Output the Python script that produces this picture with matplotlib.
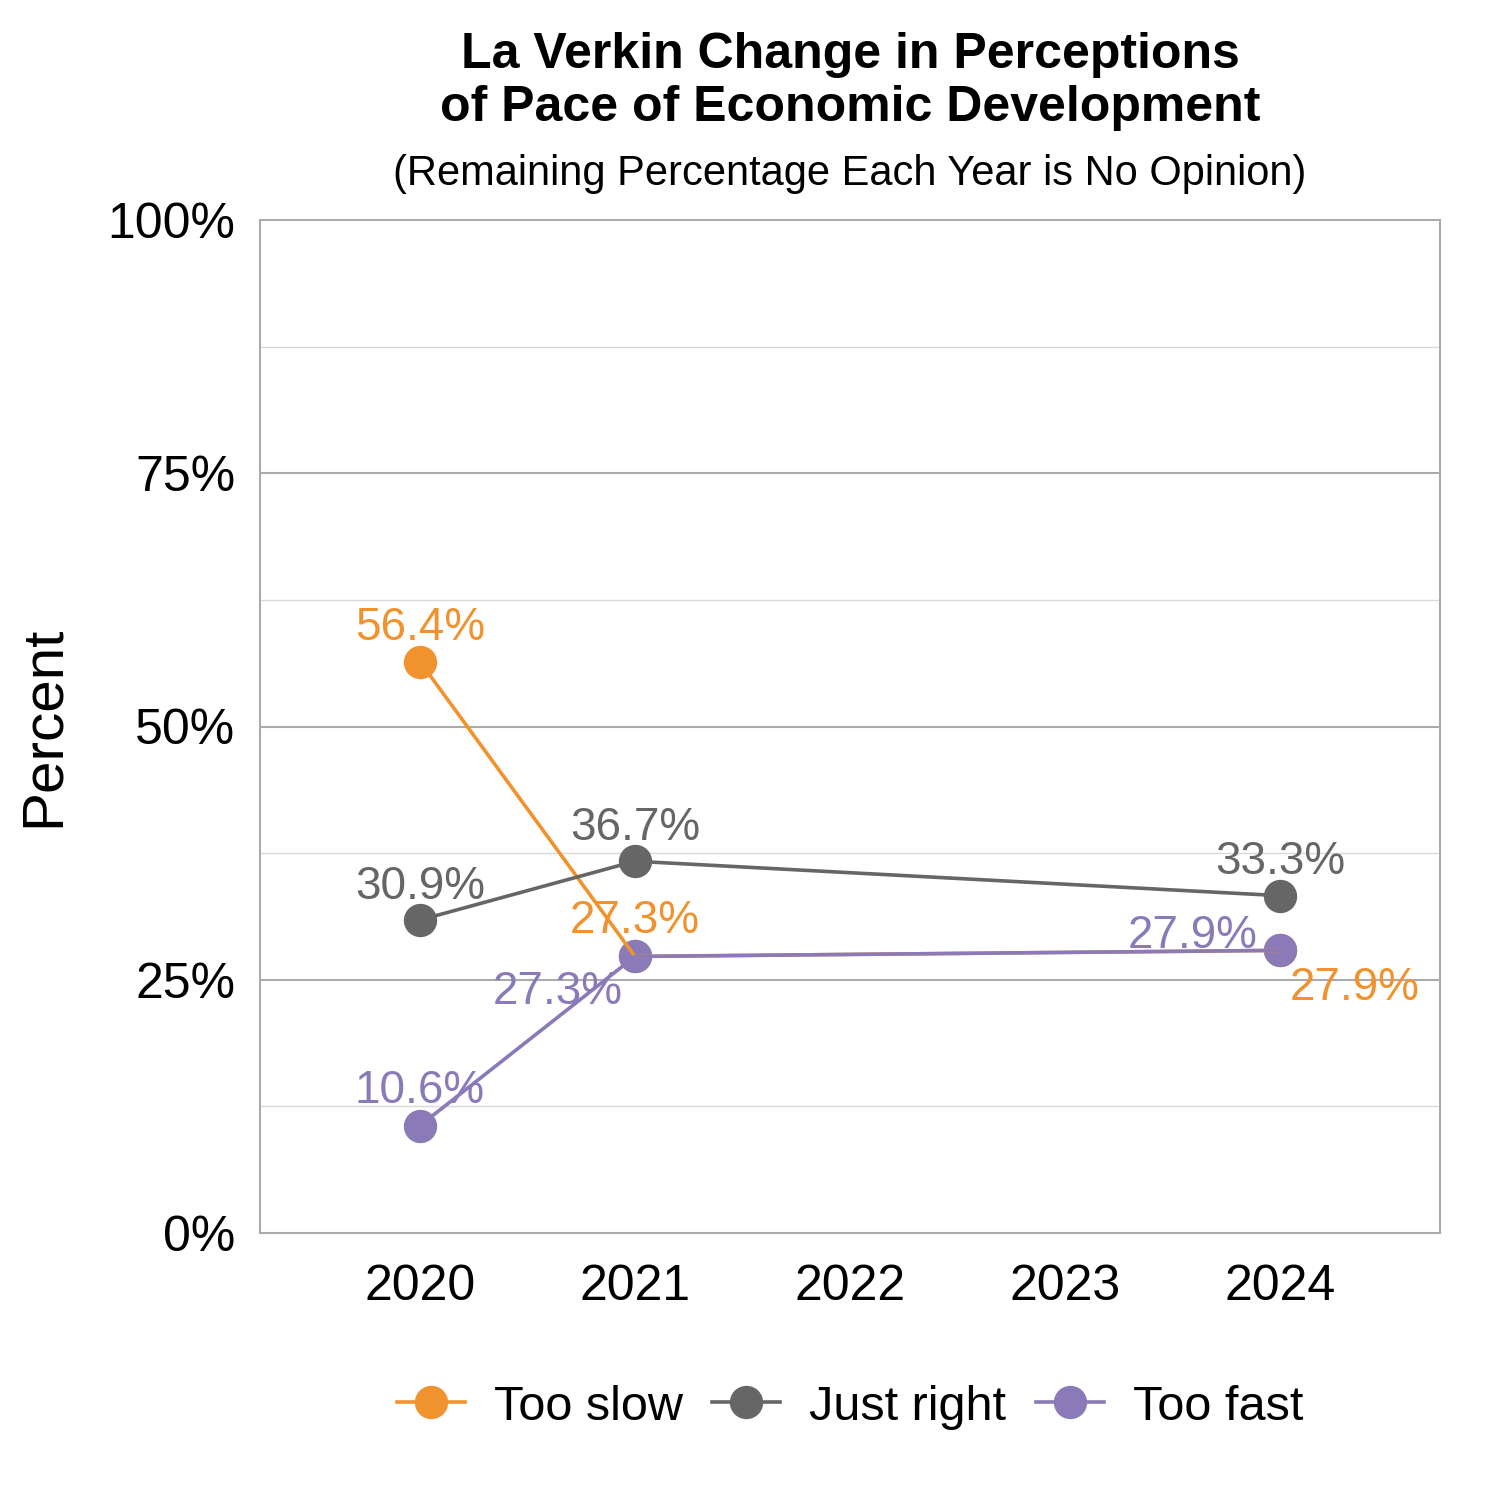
import matplotlib
matplotlib.use("Agg")
import matplotlib.pyplot as plt
from matplotlib.lines import Line2D

plt.rcParams["font.family"] = ["Liberation Sans", "DejaVu Sans"]

YEARS = [2020, 2021, 2024]
TOO_SLOW = [56.4, 27.3, 27.9]
JUST_RIGHT = [30.9, 36.7, 33.3]
TOO_FAST = [10.6, 27.3, 27.9]
SERIES_NAMES = ["Too slow", "Just right", "Too fast"]
X_TICKS = [2020, 2021, 2022, 2023, 2024]

COLORS = {
    "Too slow": "#F0932F",
    "Just right": "#666666",
    "Too fast": "#8A7BB8",
}

# label offsets in pixels (dx, dy) per series and point
LABEL_OFFSETS = {
    "Too slow": [(0, 34), (0, 35), (75, -38)],
    "Just right": [(0, 33), (0, 33), (0, 34)],
    "Too fast": [(0, 35), (-77, -36), (-87, 14)],
}

fig = plt.figure(figsize=(15, 15), dpi=100)
fig.patch.set_facecolor("white")
ax = fig.add_axes([260 / 1500, 267 / 1500, 1180 / 1500, 1013 / 1500])

for y in [12.5, 37.5, 62.5, 87.5]:
    ax.axhline(y, color="#D9D9D9", lw=1.0, zorder=0)
for y in [25, 50, 75]:
    ax.axhline(y, color="#ABABAB", lw=1.5, zorder=0)

data = {"Too slow": TOO_SLOW, "Just right": JUST_RIGHT, "Too fast": TOO_FAST}
for name in SERIES_NAMES:
    vals = data[name]
    c = COLORS[name]
    ax.plot(YEARS, vals, color=c, lw=2.6, zorder=3)
    ax.plot(YEARS, vals, ls="none", marker="o", ms=23, color=c, zorder=2)
    for (x, v), (dx, dy) in zip(zip(YEARS, vals), LABEL_OFFSETS[name]):
        ax.annotate(f"{v:.1f}%", (x, v), xytext=(dx, dy), textcoords="offset pixels",
                    ha="center", va="center", fontsize=33, color=c, zorder=1)

ax.set_xlim(2019.256, 2024.744)
ax.set_ylim(0, 100)
ax.set_xticks(X_TICKS)
ax.set_yticks([0, 25, 50, 75, 100])
ax.set_yticklabels(["0%", "25%", "50%", "75%", "100%"])
ax.tick_params(axis="both", length=0, labelsize=36)
ax.tick_params(axis="y", pad=18)
ax.tick_params(axis="x", pad=22)
for sp in ax.spines.values():
    sp.set_color("#ABABAB")
    sp.set_linewidth(1.5)
ax.set_ylabel("Percent", fontsize=42, labelpad=26)

fig.text(850 / 1500, 1 - 55 / 1500, "La Verkin Change in Perceptions", ha="center", va="center",
         fontsize=36, fontweight="bold")
fig.text(850 / 1500, 1 - 108 / 1500, "of Pace of Economic Development", ha="center", va="center",
         fontsize=36, fontweight="bold")
fig.text(850 / 1500, 1 - 174 / 1500, "(Remaining Percentage Each Year is No Opinion)", ha="center",
         va="center", fontsize=30)

handles = [Line2D([], [], color=COLORS[n], lw=2.6, marker="o", ms=23) for n in SERIES_NAMES]
fig.legend(handles, SERIES_NAMES, loc="center", bbox_to_anchor=(850 / 1500, 1 - 1407 / 1500),
           ncol=3, frameon=False, fontsize=35, handlelength=1.4, handletextpad=0.6,
           columnspacing=0.6)

fig.savefig("out.png", dpi=100)
